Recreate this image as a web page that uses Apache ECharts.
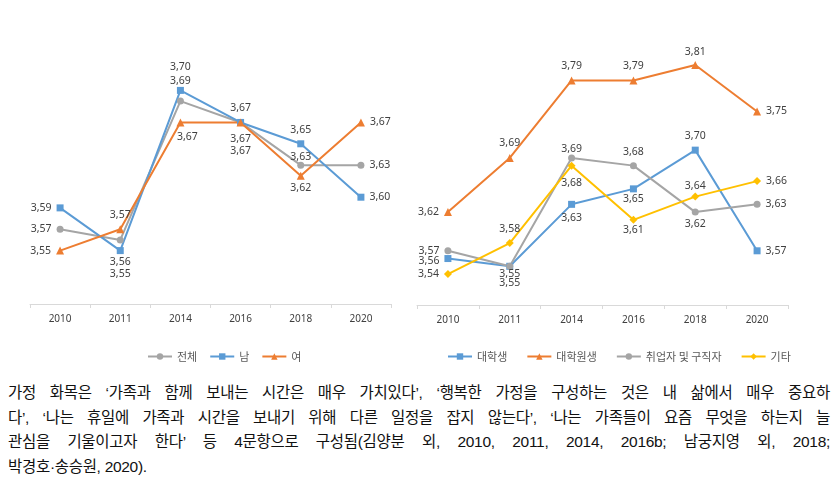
<!DOCTYPE html>
<html>
<head>
<meta charset="utf-8">
<script src="https://cdn.jsdelivr.net/npm/echarts@6/dist/echarts.min.js"></script>
<style>
  html, body { margin:0; padding:0; background:#fff; }
  #chart { position:absolute; left:0; top:0; width:840px; height:372px; }
  #note { position:absolute; left:8px; top:381px; width:822px;
          font-family:"Liberation Sans", "Noto Sans CJK KR", sans-serif; font-size:15.5px; color:#111;
          letter-spacing:-0.3px; }
  #note div { height:24.7px; line-height:24.7px; text-align:justify; text-align-last:justify; white-space:nowrap; }
  #note div.last { text-align:left; text-align-last:left; }
</style>
</head>
<body>
<div id="chart"></div>
<div id="note">
  <div>가정 화목은 ‘가족과 함께 보내는 시간은 매우 가치있다’, ‘행복한 가정을 구성하는 것은 내 삶에서 매우 중요하</div>
  <div>다’, ‘나는 휴일에 가족과 시간을 보내기 위해 다른 일정을 잡지 않는다’, ‘나는 가족들이 요즘 무엇을 하는지 늘</div>
  <div>관심을 기울이고자 한다’ 등 4문항으로 구성됨(김양분 외, 2010, 2011, 2014, 2016b; 남궁지영 외, 2018;</div>
  <div class="last">박경호·송승원, 2020).</div>
</div>
<script>
// ---- data ----
const years = ['2010', '2011', '2014', '2016', '2018', '2020'];
const totalVals = [3.57, 3.56, 3.69, 3.67, 3.63, 3.63];      // 전체
const maleVals = [3.59, 3.55, 3.70, 3.67, 3.65, 3.60];       // 남
const femaleVals = [3.55, 3.57, 3.67, 3.67, 3.62, 3.67];     // 여
const undergradVals = [3.56, 3.55, 3.63, 3.65, 3.70, 3.57];  // 대학생
const gradVals = [3.62, 3.69, 3.79, 3.79, 3.81, 3.75];       // 대학원생
const workerVals = [3.57, 3.55, 3.69, 3.68, 3.62, 3.63];     // 취업자 및 구직자
const otherVals = [3.54, 3.58, 3.68, 3.61, 3.64, 3.66];      // 기타

const leftNames = ['전체', '남', '여'];
const rightNames = ['대학생', '대학원생', '취업자 및 구직자', '기타'];

// ---- label placement (layout only) ----
const L = (pos, dx, dy) => ({ show: true, position: pos, offset: [dx || 0, dy || 0] });
const layTotal = [L('left'), L('bottom', 0, 8), L('top', 0, -6), L('bottom', 0, 3), L('top', 0, 6), L('right')];
const layMale = [L('left'), L('bottom', 0, 9), L('top', 0, -9), L('top'), L('top'), L('right')];
const layFemale = [L('left'), L('top'), L('bottom', 7, 0), L('bottom', 0, 14), L('bottom', 0, -2), L('right')];
const layUnder = [L('left', 0, 2), L('bottom', 0, 3), L('bottom'), L('bottom', 0, -4), L('top'), L('right')];
const layGrad = [L('left'), L('top'), L('top'), L('top'), L('top', 0, 2), L('right')];
const layWorker = [L('left'), L('bottom', 0, -6), L('top', 0, 5), L('top'), L('bottom', 0, -2), L('right')];
const layOther = [L('left'), L('top'), L('bottom', 0, 3), L('bottom', 0, -4), L('top', 0, 4), L('right')];

const C = { blue: '#5B9BD5', orange: '#ED7D31', gray: '#A5A5A5', yellow: '#FFC000' };
const fmt = p => p.value.toFixed(2).replace('.', ',');

function mk(name, vals, lay, color, symbol, size, idx) {
  return {
    name: name, type: 'line', xAxisIndex: idx, yAxisIndex: idx,
    data: vals.map((v, i) => ({ value: v, label: lay[i] })),
    symbol: symbol, symbolSize: size, showAllSymbol: true,
    lineStyle: { color: color, width: 2 },
    itemStyle: { color: color },
    label: { formatter: fmt, fontSize: 10.5, color: '#404040', fontFamily: 'Noto Sans', distance: 5 },
    emphasis: { disabled: true },
    z: 2
  };
}

const xAxisBase = {
  type: 'category', data: years, boundaryGap: true,
  axisLine: { lineStyle: { color: '#D9D9D9', width: 1 } },
  axisTick: { show: true, length: 4, lineStyle: { color: '#D9D9D9' } },
  axisLabel: { fontSize: 10, color: '#404040', margin: 10, fontFamily: 'Noto Sans' },
  splitLine: { show: false }
};

const chart = echarts.init(document.getElementById('chart'), null, { renderer: 'canvas' });
chart.setOption({
  animation: false,
  grid: [
    { left: 30, top: 37, width: 361, height: 267 },
    { left: 417, top: 34, width: 371, height: 271 }
  ],
  xAxis: [Object.assign({ gridIndex: 0 }, xAxisBase), Object.assign({ gridIndex: 1 }, xAxisBase)],
  yAxis: [
    { type: 'value', gridIndex: 0, min: 3.5, max: 3.75, show: false },
    { type: 'value', gridIndex: 1, min: 3.5, max: 3.85, show: false }
  ],
  legend: [
    { data: leftNames, left: 142, top: 346, itemWidth: 24, itemHeight: 8, itemGap: 12,
      textStyle: { fontSize: 11, color: '#595959', fontFamily: 'Noto Sans CJK KR' } },
    { data: rightNames, left: 442, top: 346, itemWidth: 24, itemHeight: 8, itemGap: 19,
      textStyle: { fontSize: 11, color: '#595959', fontFamily: 'Noto Sans CJK KR' } }
  ],
  series: [
    mk(leftNames[0], totalVals, layTotal, C.gray, 'circle', 7, 0),
    mk(leftNames[1], maleVals, layMale, C.blue, 'rect', 7, 0),
    mk(leftNames[2], femaleVals, layFemale, C.orange, 'triangle', 8, 0),
    mk(rightNames[0], undergradVals, layUnder, C.blue, 'rect', 7, 1),
    mk(rightNames[1], gradVals, layGrad, C.orange, 'triangle', 8, 1),
    mk(rightNames[2], workerVals, layWorker, C.gray, 'circle', 7, 1),
    mk(rightNames[3], otherVals, layOther, C.yellow, 'diamond', 8, 1)
  ]
});
</script>
</body>
</html>
